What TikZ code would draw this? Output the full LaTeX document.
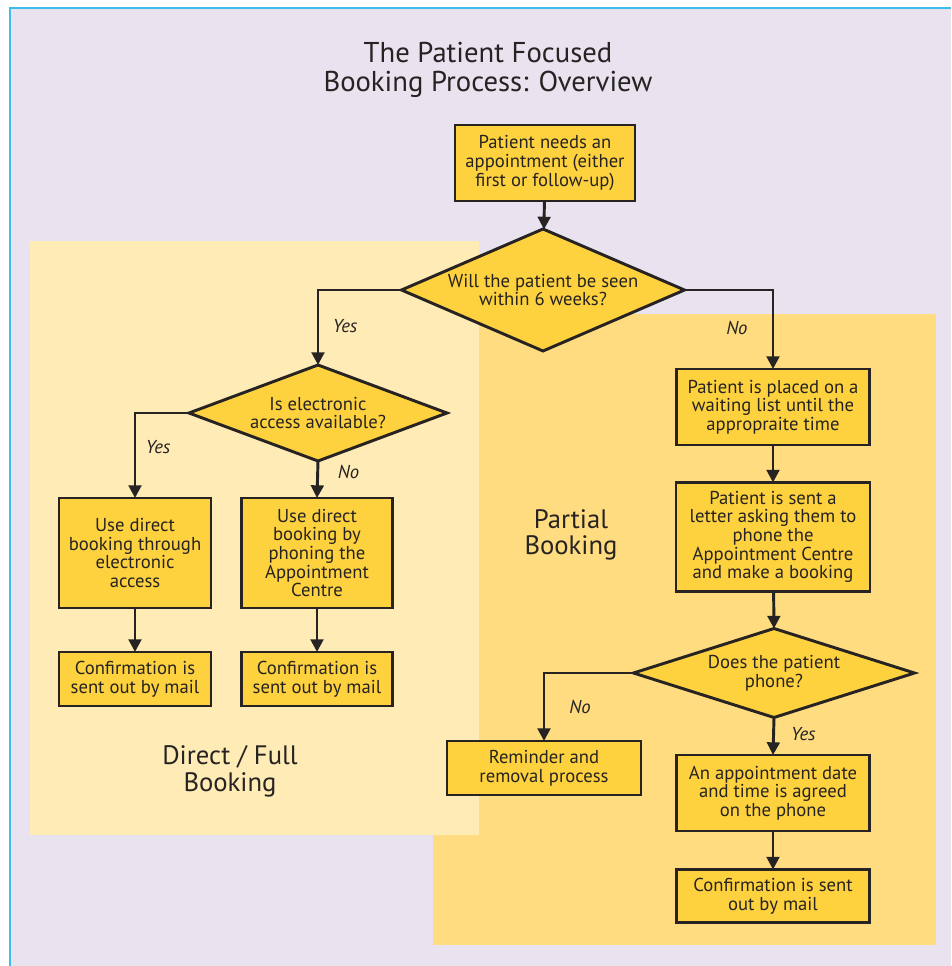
\documentclass[tikz,border=0pt]{standalone}
\usepackage{fontspec}
\setmainfont{PT Sans}
\usetikzlibrary{shapes.geometric,arrows.meta}
\definecolor{pagebg}{HTML}{E9E3EF}
\definecolor{rulecol}{HTML}{3CBDEB}
\definecolor{directbg}{HTML}{FFEBB6}
\definecolor{partialbg}{HTML}{FFDC80}
\definecolor{boxfill}{HTML}{FED23F}
\definecolor{ink}{HTML}{262322}
\newdimen\pxu \pxu=0.75pt
\tikzset{
  x=0.75pt, y=-0.75pt,
  every node/.style={text=ink, font=\fontsize{14}{14}\selectfont},
  stepbox/.style={draw=ink, line width=2.2pt, fill=boxfill, align=center,
    inner sep=0pt, outer sep=0pt},
  decision/.style={diamond, draw=ink, line width=2.2pt, fill=boxfill,
    align=center, inner sep=0pt, outer sep=0pt},
  arr/.style={draw=ink, line width=2.2pt, -{Triangle[length=9.5pt,width=9.5pt]}},
  lbl/.style={font=\fontsize{14}{14}\selectfont\itshape, inner sep=2pt},
  zone/.style={font=\fontsize{20}{20}\selectfont, align=center},
}
\begin{document}
\begin{tikzpicture}
\useasboundingbox (0,0) rectangle (951,966);
% page and its two zones
\fill[white] (0,0) rectangle (951,966);
\fill[pagebg] (10,8) rectangle (951,966);
\draw[rulecol, line width=1.6pt] (10,966) -- (10,8) -- (951,8);
\fill[partialbg] (433,314) rectangle (936,945);
\fill[directbg] (30,241) rectangle (479,835);

% title and zone captions
\node[zone, font=\fontsize{21.5}{21.8}\selectfont] (title) at (488,70)
  {The Patient Focused\\Booking Process: Overview};
\node[zone] (zdirect) at (230,771) {Direct / Full\\Booking};
\node[zone] (zpartial) at (571,535) {Partial\\Booking};

% steps
\node[stepbox, minimum width=180\pxu, minimum height=76\pxu] (start) at (545,163)
  {Patient needs an\\appointment (either\\first or follow-up)};
\node[decision, shape aspect=2.32, minimum width=283\pxu, minimum height=122\pxu] (q1) at (543,290)
  {Will the patient be seen\\within 6 weeks?};
\node[decision, shape aspect=2.69, minimum width=258\pxu, minimum height=96\pxu] (q2) at (318,413)
  {Is electronic\\access available?};
\node[stepbox, minimum width=152\pxu, minimum height=110\pxu] (elec) at (135,553)
  {Use direct\\booking through\\electronic\\access};
\node[stepbox, minimum width=151\pxu, minimum height=110\pxu] (phone) at (317,553)
  {Use direct\\booking by\\phoning the\\Appointment\\Centre};
\node[stepbox, minimum width=152\pxu, minimum height=54\pxu] (conf1) at (135,679)
  {Confirmation is\\sent out by mail};
\node[stepbox, minimum width=151\pxu, minimum height=54\pxu] (conf2) at (317,679)
  {Confirmation is\\sent out by mail};
\node[stepbox, minimum width=193\pxu, minimum height=76\pxu] (wait) at (773,407)
  {Patient is placed on a\\waiting list until the\\appropraite time};
\node[stepbox, minimum width=194\pxu, minimum height=109\pxu] (letter) at (773,537)
  {Patient is sent a\\letter asking them to\\phone the\\Appointment Centre\\and make a booking};
\node[decision, shape aspect=3.16, minimum width=281\pxu, minimum height=89\pxu] (q3) at (774,673)
  {Does the patient\\phone?};
\node[stepbox, minimum width=194\pxu, minimum height=54\pxu] (remind) at (544,768)
  {Reminder and\\removal process};
\node[stepbox, minimum width=193\pxu, minimum height=76\pxu] (agree) at (773,793)
  {An appointment date\\and time is agreed\\on the phone};
\node[stepbox, minimum width=193\pxu, minimum height=53\pxu] (conf3) at (773,896)
  {Confirmation is sent\\out by mail};

% connectors
\draw[arr] (start) -- (q1);
\draw[arr] (q1.west) -| (q2.north) node[lbl, pos=0.74, anchor=west, xshift=8pt] {Yes};
\draw[arr] (q1.east) -| (wait.north) node[lbl, pos=0.74, anchor=east, xshift=-16pt] {No};
\draw[arr] (q2.west) -| (elec.north) node[lbl, pos=0.7, anchor=west, xshift=5pt] {Yes};
\draw[arr] (q2.south) -- (phone.north) node[lbl, pos=0.3, anchor=west, xshift=12pt] {No};
\draw[arr] (elec) -- (conf1);
\draw[arr] (phone) -- (conf2);
\draw[arr] (wait) -- (letter);
\draw[arr] (letter) -- (q3.north);
\draw[arr] (q3.west) -| (remind.north) node[lbl, pos=0.75, anchor=west, xshift=16pt] {No};
\draw[arr] (q3.south) -- (agree.north) node[lbl, pos=0.45, anchor=west, xshift=10pt] {Yes};
\draw[arr] (agree) -- (conf3);
\end{tikzpicture}
\end{document}
